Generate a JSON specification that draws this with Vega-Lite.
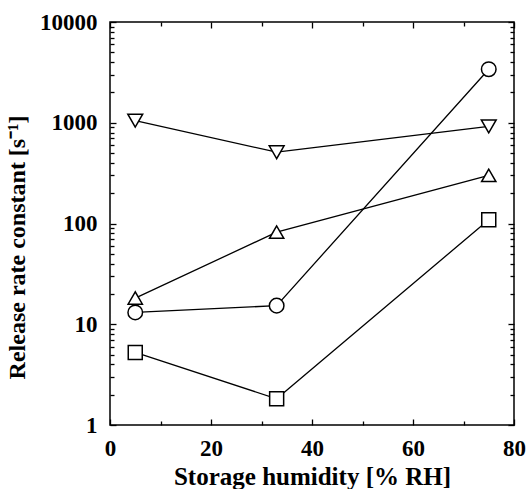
{
  "$schema": "https://vega.github.io/schema/vega-lite/v6.json",
  "width": 404,
  "height": 403,
  "autosize": {"type": "none"},
  "padding": {"left": 110, "top": 22, "right": 14, "bottom": 64},
  "background": "white",
  "data": {"values": [
    {"series": "A", "rh": 5, "k": 1050},
    {"series": "A", "rh": 33, "k": 510},
    {"series": "A", "rh": 75, "k": 920},
    {"series": "B", "rh": 5, "k": 13.1},
    {"series": "B", "rh": 33, "k": 15.3},
    {"series": "B", "rh": 75, "k": 3400},
    {"series": "C", "rh": 5, "k": 18.2},
    {"series": "C", "rh": 33, "k": 82},
    {"series": "C", "rh": 75, "k": 300},
    {"series": "D", "rh": 5, "k": 5.25},
    {"series": "D", "rh": 33, "k": 1.82},
    {"series": "D", "rh": 75, "k": 109}
  ]},
  "config": {
    "view": {"stroke": "black", "strokeWidth": 1.5},
    "axis": {
      "domain": false,
      "grid": false,
      "ticks": true,
      "labelFlush": false,
      "labelOverlap": false,
      "tickColor": "black",
      "tickWidth": 1.3,
      "tickOpacity": 1,
      "zindex": 1,
      "labelFont": "Liberation Serif",
      "labelFontWeight": "bold",
      "labelFontSize": 23,
      "labelColor": "black",
      "titleFont": "Liberation Serif",
      "titleFontWeight": "bold",
      "titleFontSize": 25,
      "titleColor": "black"
    }
  },
  "layer": [
    {
      "mark": {"type": "line", "color": "black", "strokeWidth": 1.3},
      "encoding": {
        "x": {"field": "rh", "type": "quantitative",
          "scale": {"domain": [0, 80], "nice": false, "zero": false},
          "axis": {"orient": "bottom", "values": [0, 20, 40, 60, 80], "tickSize": 6, "offset": -6, "labelPadding": 12, "title": "Storage humidity [% RH]", "titlePadding": 4, "format": "d"}},
        "y": {"field": "k", "type": "quantitative",
          "scale": {"type": "log", "domain": [1, 10000], "nice": false},
          "axis": {"orient": "left", "values": [1, 10, 100, 1000, 10000], "tickSize": 6, "offset": -6, "labelPadding": 13, "format": "d", "title": "Release rate constant [s⁻¹]", "titleFontSize": 24, "titlePadding": 10, "titleY": 225}},
        "detail": {"field": "series"}
      }
    },
    {
      "mark": {"type": "point", "filled": true, "fill": "white", "stroke": "black", "strokeWidth": 1.5, "opacity": 1},
      "encoding": {
        "x": {"field": "rh", "type": "quantitative",
          "scale": {"domain": [0, 80], "nice": false, "zero": false},
          "axis": {"orient": "top", "values": [0, 20, 40, 60, 80], "tickSize": 6, "offset": -6, "labels": false, "title": null}},
        "y": {"field": "k", "type": "quantitative", "scale": {"type": "log", "domain": [1, 10000], "nice": false},
          "axis": {"orient": "right", "values": [1, 10, 100, 1000, 10000], "tickSize": 6, "offset": -6, "labels": false, "title": null}},
        "shape": {"field": "series", "type": "nominal",
          "scale": {"domain": ["A", "B", "C", "D"], "range": ["triangle-down", "circle", "triangle-up", "square"]},
          "legend": null},
        "size": {"field": "series", "type": "nominal",
          "scale": {"domain": ["A", "B", "C", "D"], "range": [220, 196, 220, 160]},
          "legend": null}
      }
    },
    {
      "mark": {"type": "point", "opacity": 0},
      "encoding": {
        "x": {"field": "rh", "type": "quantitative",
          "scale": {"domain": [0, 80], "nice": false, "zero": false},
          "axis": {"orient": "bottom", "values": [10, 30, 50, 70], "tickSize": 4, "offset": -4, "labels": false, "title": null}},
        "y": {"field": "k", "type": "quantitative", "scale": {"type": "log", "domain": [1, 10000], "nice": false},
          "axis": {"orient": "left", "values": [2,3,4,5,6,7,8,9,20,30,40,50,60,70,80,90,200,300,400,500,600,700,800,900,2000,3000,4000,5000,6000,7000,8000,9000], "tickSize": 4, "offset": -4, "labels": false, "title": null}}
      }
    },
    {
      "mark": {"type": "point", "opacity": 0},
      "encoding": {
        "x": {"field": "rh", "type": "quantitative",
          "scale": {"domain": [0, 80], "nice": false, "zero": false},
          "axis": {"orient": "top", "values": [10, 30, 50, 70], "tickSize": 4, "offset": -4, "labels": false, "title": null}},
        "y": {"field": "k", "type": "quantitative", "scale": {"type": "log", "domain": [1, 10000], "nice": false},
          "axis": {"orient": "right", "values": [2,3,4,5,6,7,8,9,20,30,40,50,60,70,80,90,200,300,400,500,600,700,800,900,2000,3000,4000,5000,6000,7000,8000,9000], "tickSize": 4, "offset": -4, "labels": false, "title": null}}
      }
    }
  ],
  "resolve": {"axis": {"x": "independent", "y": "independent"}}
}
